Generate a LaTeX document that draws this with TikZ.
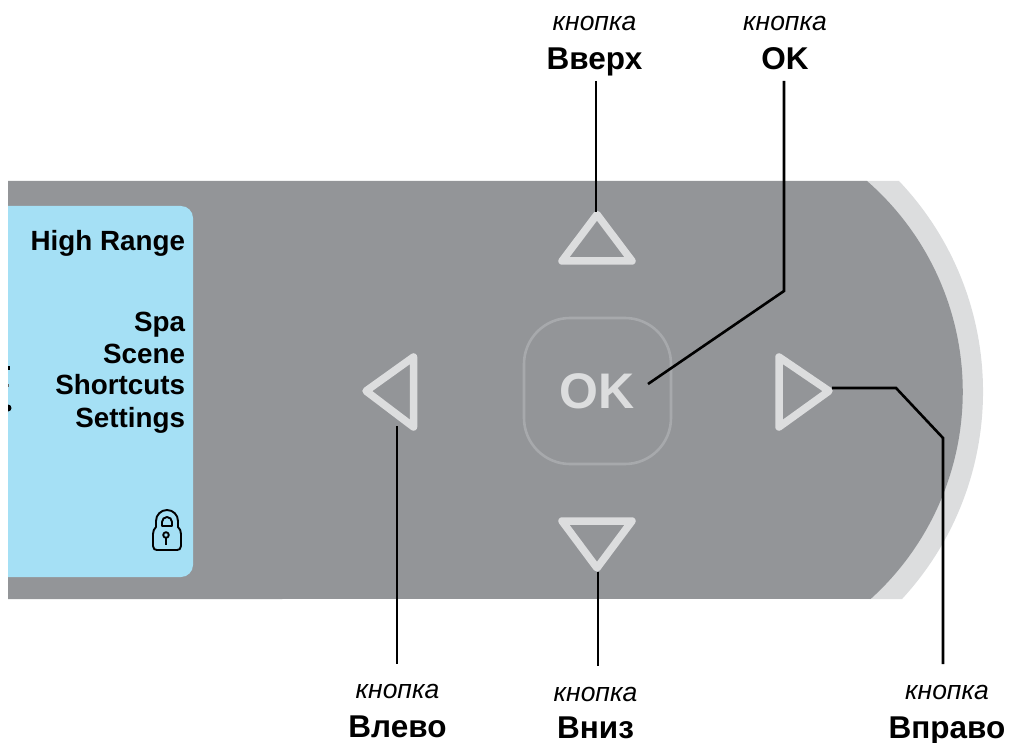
\documentclass[tikz,border=0pt]{standalone}
\usepackage{fontspec}
\setmainfont{Liberation Sans}
\definecolor{panelgrey}{HTML}{939598}
\definecolor{lightgrey}{HTML}{DCDDDE}
\definecolor{okring}{HTML}{A7A9AC}
\definecolor{screenblue}{HTML}{A5E0F5}
\tikzset{
  every node/.style={inner sep=0pt,outer sep=0pt},
  leader/.style={draw=black,line width=2.6pt,line join=miter},
  arrowicon/.style={draw=lightgrey,line width=7.5pt,line join=round,fill=none},
  captext/.style={anchor=base,font=\fontsize{26.5}{26.5}\selectfont\itshape},
  btntext/.style={anchor=base,font=\fontsize{31.5}{31.5}\selectfont\bfseries},
  screentext/.style={anchor=base east,font=\fontsize{27.8}{27.8}\selectfont\bfseries},
  lockline/.style={draw=black,line width=1.9pt,line join=round},
}
\begin{document}
\begin{tikzpicture}[x=1pt,y=-1pt]
\useasboundingbox (0,0) rectangle (1009,743);
% body
\fill[lightgrey] (860,181) -- (899,181) arc[start angle=-43.5,end angle=42.7,radius=306] -- (860,599) -- cycle;
\fill[panelgrey] (8,181) -- (867,181) arc[start angle=-48.9,end angle=47.9,radius=279.5] -- (8,599) -- cycle;
% screen
\fill[screenblue,rounded corners=12pt] (-20,206) rectangle (193,577);
\fill[white] (0,200) rectangle (8,590);
\fill[black] (8,365.5) rectangle (9.5,369.5);
\fill[black!60] (8,384) rectangle (9,387);
\fill[black] (8,404.5) arc[start angle=-90,end angle=90,radius=3.5] -- cycle;
% screen text
\node[screentext] (t1) at (185,251) {High Range};
\node[screentext] (t2) at (185,331.5) {Spa};
\node[screentext] (t3) at (185,363) {Scene};
\node[screentext] (t4) at (185,394) {Shortcuts};
\node[screentext] (t5) at (185,427.5) {Settings};
% lock
\draw[lockline] (156,527) -- (156,521) arc[start angle=180,end angle=360,radius=11] -- (178,527)
  .. controls (180,529) and (181,531) .. (181,534) -- (181,546)
  .. controls (181,549) and (179,550) .. (177,550) -- (157,550)
  .. controls (155,550) and (153,549) .. (153,546) -- (153,534)
  .. controls (153,531) and (154,529) .. (156,527);
\draw[lockline] (162,526) -- (162,522) arc[start angle=180,end angle=360,radius=5] -- (172,526) -- cycle;
\draw[lockline] (166,535) circle[radius=2.8];
\draw[lockline] (166,538) -- (166,544.5);
% buttons
\draw[arrowicon] (597,214.5) -- (632,261) -- (562,261) -- cycle;
\draw[arrowicon] (597,568) -- (632,521) -- (562,521) -- cycle;
\draw[arrowicon] (366,391) -- (413.5,357) -- (413.5,427) -- cycle;
\draw[arrowicon] (829,391) -- (779,357) -- (779,427) -- cycle;
\draw[okring,line width=2.6pt,rounded corners=46pt] (524,318) rectangle (671,464);
\node[text=lightgrey,font=\fontsize{50}{50}\selectfont\bfseries,anchor=base] (oktext) at (597,408) {OK};
% labels
\node[captext] (capUp) at (594.5,31) {кнопка};
\node[btntext] (lblUp) at (594.5,69.5) {Вверх};
\node[captext] (capOk) at (785,31) {кнопка};
\node[btntext] (lblOk) at (785,69.5) {OK};
\node[captext] (capLeft) at (397.5,698) {кнопка};
\node[btntext] (lblLeft) at (397.5,737) {Влево};
\node[captext] (capDown) at (595.5,701) {кнопка};
\node[btntext] (lblDown) at (595.5,738.5) {Вниз};
\node[captext] (capRight) at (947,699) {кнопка};
\node[btntext] (lblRight) at (947,738) {Вправо};
% connector ends
\coordinate (endUpA) at (596,81);
\coordinate (endUpB) at (596,212);
\coordinate (endOkA) at (784,81);
\coordinate (bendOk) at (784,291);
\coordinate (endOkB) at (648,384);
\coordinate (endRightA) at (832,388);
\coordinate (bendRight1) at (896,388);
\coordinate (bendRight2) at (943,438);
\coordinate (endRightB) at (943,664);
\coordinate (endLeftA) at (397,426);
\coordinate (endLeftB) at (397,664);
\coordinate (endDownA) at (598,572);
\coordinate (endDownB) at (598,666);
\draw[leader] (endUpA) -- (endUpB);
\draw[leader] (endOkA) -- (bendOk) -- (endOkB);
\draw[leader] (endRightA) -- (bendRight1) -- (bendRight2) -- (endRightB);
\draw[leader] (endLeftA) -- (endLeftB);
\draw[leader] (endDownA) -- (endDownB);
\end{tikzpicture}
\end{document}
